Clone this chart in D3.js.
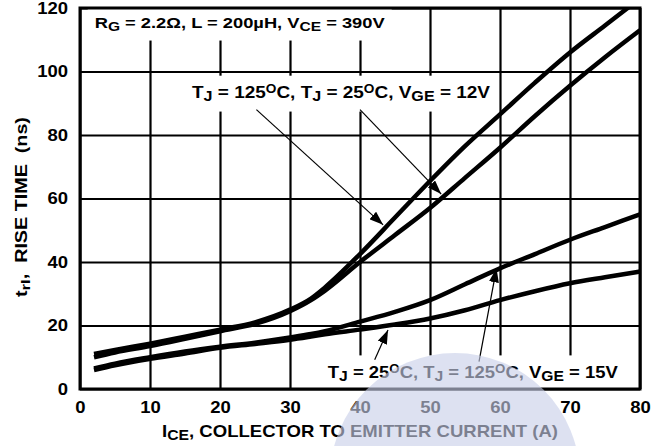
<!DOCTYPE html>
<html>
<head>
<meta charset="utf-8">
<script src="https://cdn.jsdelivr.net/npm/d3@7"></script>
<style>
  body { margin: 0; background: #fff; }
  svg { display: block; font-family: "Liberation Sans", Arial, Helvetica, sans-serif; font-weight: bold; }
  .grid line { stroke: #000; stroke-width: 2.2; }
  .grid path { display: none; }
  .tick text { font-size: 16.5px; font-weight: bold; fill: #000; }
</style>
</head>
<body>
<div class="chart"></div>
<script>
const width = 664;
const height = 446;

// collector current (A) sampled along each curve
const iceValues = [2, 5, 10, 15, 20, 25, 30, 33, 35, 40, 45, 50, 55, 60, 65, 70, 75, 80];
// rise time (ns)
const trTj125Vge12 = [11, 12.3, 14.3, 16.5, 18.7, 21, 25, 28.5, 32, 42.5, 54, 65.5, 76.5, 86.5, 96.5, 106, 114.5, 123];
const trTj25Vge12 = [10, 11.5, 13.5, 15.8, 18.2, 20.5, 24.5, 28, 31, 40, 48.5, 57, 66.5, 76, 86, 95.5, 104.5, 113];
const trTj125Vge15 = [6.5, 8, 10, 11.8, 13.3, 14.6, 16.2, 17.3, 18.2, 21.2, 24.3, 28, 33, 38, 42.5, 47, 51, 55];
const trTj25Vge15 = [6, 7.5, 9.5, 11.2, 13, 14.2, 15.5, 16.5, 17.2, 18.7, 20.3, 22.2, 24.8, 28, 30.8, 33.3, 35.2, 37];

const xTicks = [0, 10, 20, 30, 40, 50, 60, 70, 80];
const yTicks = [0, 20, 40, 60, 80, 100, 120];

// text pieces: [text, "n" normal | "sub" | "sup"]
const condLabel = [["R", "n"], ["G", "sub"], [" = 2.2\u03A9, L = 200\u00B5H, V", "n"], ["CE", "sub"], [" = 390V", "n"]];
const vge12Label = [["T", "n"], ["J", "sub"], [" = 125", "n"], ["O", "sup"], ["C, T", "n"], ["J", "sub"], [" = 25", "n"], ["O", "sup"], ["C, V", "n"], ["GE", "sub"], [" = 12V", "n"]];
const vge15Label = [["T", "n"], ["J", "sub"], [" = 25", "n"], ["O", "sup"], ["C, T", "n"], ["J", "sub"], [" = 125", "n"], ["O", "sup"], ["C, V", "n"], ["GE", "sub"], [" = 15V", "n"]];
const xTitle = [["I", "n"], ["CE", "sub"], [", COLLECTOR TO EMITTER CURRENT (A)", "n"]];
const yTitle = [["t", "n"], ["rI", "sub"], [",  RISE TIME  (ns)", "n"]];

// arrows in data units: [fromI, fromT, toI, toT]
const arrows = [
  [25.2, 88, 43.3, 51.7],
  [40, 88, 51.6, 61.4],
  [42.1, 9.2, 44, 18.6],
  [57, 8.6, 59.5, 38]
];

const series = [trTj125Vge12, trTj25Vge12, trTj125Vge15, trTj25Vge15];

const margin = { top: 8, right: 24, bottom: 57, left: 80 };
const innerWidth = width - margin.left - margin.right;
const innerHeight = height - margin.top - margin.bottom;

const x = d3.scaleLinear().domain([0, 80]).range([0, innerWidth]);
const y = d3.scaleLinear().domain([0, 120]).range([innerHeight, 0]);

const svg = d3.select(".chart")
  .append("svg")
  .attr("width", width)
  .attr("height", height)
  .append("g")
  .attr("transform", `translate(${margin.left},${margin.top})`);

const defs = svg.append("defs");
defs.append("clipPath").attr("id", "plot-clip")
  .append("rect").attr("width", innerWidth).attr("height", innerHeight);
defs.append("marker")
  .attr("id", "head")
  .attr("markerUnits", "userSpaceOnUse")
  .attr("viewBox", "0 0 14 10")
  .attr("refX", 14).attr("refY", 5)
  .attr("markerWidth", 14).attr("markerHeight", 10)
  .attr("orient", "auto")
  .append("path").attr("d", "M0,0 L14,5 L0,10 Z").attr("fill", "#000");

// the original type is set wider than Arial, stretch it sideways
const stretch = (sel, factor) => sel.each(function() {
  const w = this.getComputedTextLength();
  d3.select(this).attr("textLength", w * factor).attr("lengthAdjust", "spacingAndGlyphs");
});

svg.append("g")
  .attr("class", "grid")
  .attr("transform", `translate(0,${innerHeight})`)
  .call(d3.axisBottom(x).tickValues(xTicks).tickSize(-innerHeight).tickPadding(12).tickFormat(d3.format("d")))
  .selectAll("text").call(stretch, 1.12);

svg.append("g")
  .attr("class", "grid")
  .call(d3.axisLeft(y).tickValues(yTicks).tickSize(-innerWidth).tickPadding(12).tickFormat(d3.format("d")))
  .selectAll("text").call(stretch, 1.12);

const addRich = (sel, parts, size) => {
  parts.forEach(([t, kind]) => {
    const ts = sel.append("tspan").text(t);
    if (kind === "sub") ts.attr("font-size", size * 0.85).attr("baseline-shift", "-22%");
    if (kind === "sup") ts.attr("font-size", size * 0.72).attr("baseline-shift", "40%");
  });
  return sel;
};

// in-plot labels with white boxes that break the grid
const labels = [
  { parts: condLabel, i: 2.1, t: 113.8, size: 15, len: 290 },
  { parts: vge12Label, i: 16, t: 91.5, size: 16.5, len: 298 },
  { parts: vge15Label, i: 35.4, t: 3.4, size: 16.5, len: 290 }
];

const plot = svg.append("g").attr("clip-path", "url(#plot-clip)");

labels.forEach(l => {
  const box = plot.append("rect").attr("fill", "#fff");
  const txt = addRich(plot.append("text")
    .attr("x", x(l.i))
    .attr("y", y(l.t))
    .attr("font-size", l.size)
    .attr("textLength", l.len)
    .attr("lengthAdjust", "spacingAndGlyphs")
    .style("white-space", "pre"), l.parts, l.size);
  const b = txt.node().getBBox();
  box.attr("x", b.x - 7).attr("y", b.y - 7).attr("width", b.width + 14).attr("height", b.height + 14);
});

const line = d3.line()
  .x((d, i) => x(iceValues[i]))
  .y(d => y(d))
  .curve(d3.curveMonotoneX);

plot.selectAll(".curve")
  .data(series)
  .enter()
  .append("path")
  .attr("class", "curve")
  .attr("d", line)
  .attr("fill", "none")
  .attr("stroke", "#000")
  .attr("stroke-width", 4.5)
  .attr("stroke-linejoin", "round");

svg.selectAll(".arrow")
  .data(arrows)
  .enter()
  .append("line")
  .attr("class", "arrow")
  .attr("x1", d => x(d[0]))
  .attr("y1", d => y(d[1]))
  .attr("x2", d => x(d[2]))
  .attr("y2", d => y(d[3]))
  .attr("stroke", "#000")
  .attr("stroke-width", 1.2)
  .attr("marker-end", "url(#head)");

svg.append("rect")
  .attr("width", innerWidth)
  .attr("height", innerHeight)
  .attr("fill", "none")
  .attr("stroke", "#000")
  .attr("stroke-width", 3);

addRich(svg.append("text")
  .attr("x", innerWidth / 2)
  .attr("y", innerHeight + 48)
  .attr("text-anchor", "middle")
  .attr("font-size", 17)
  .attr("textLength", 396)
  .attr("lengthAdjust", "spacingAndGlyphs")
  .style("white-space", "pre"), xTitle, 17);

addRich(svg.append("text")
  .attr("transform", `translate(${27 - margin.left},${y(57.3)}) rotate(-90)`)
  .attr("text-anchor", "middle")
  .attr("font-size", 16)
  .attr("textLength", 180)
  .attr("lengthAdjust", "spacingAndGlyphs")
  .style("white-space", "pre"), yTitle, 16);

// faint watermark blob over the lower part
svg.append("circle")
  .attr("cx", 455 - margin.left)
  .attr("cy", 478 - margin.top)
  .attr("r", 125)
  .attr("fill", "rgb(200,207,232)")
  .attr("opacity", 0.62);
</script>
</body>
</html>
